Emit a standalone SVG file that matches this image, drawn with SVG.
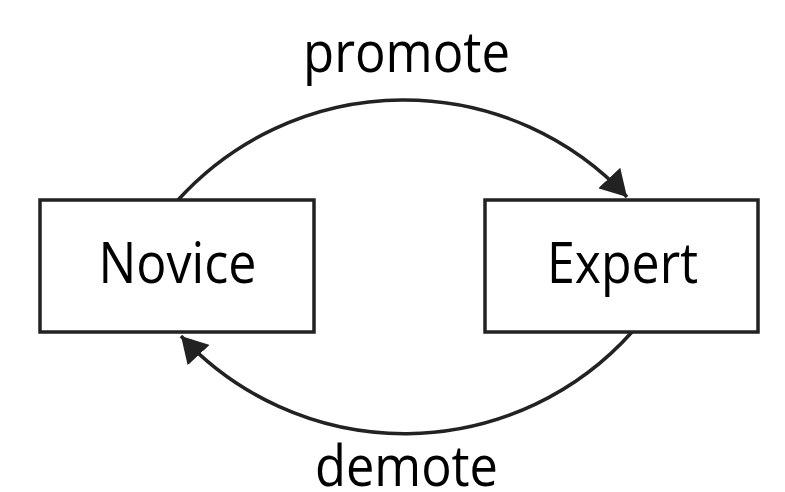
<svg xmlns="http://www.w3.org/2000/svg" width="785" height="492" viewBox="0 0 785 492">
<style>
.box{fill:#fff;stroke:#222;stroke-width:3.5}
.lbl{font-family:"Open Sans","Liberation Sans",sans-serif;font-size:56px;fill:#000;text-anchor:middle}
.edge{fill:none;stroke:#222;stroke-width:3.5}
</style>
<defs>
<marker id="ah" markerUnits="userSpaceOnUse" viewBox="0 0 26 30" refX="26" refY="15" markerWidth="26" markerHeight="30" orient="auto">
<path d="M0,0 L26,15 L0,30 Z" fill="#222"/>
</marker>
</defs>
<rect width="785" height="492" fill="#fff"/>
<g id="connectors">
<path class="edge" d="M178,200 A305,305 0 0 1 627,197" marker-end="url(#ah)"/>
<path class="edge" d="M632,332 A305,305 0 0 1 181,336" marker-end="url(#ah)"/>
<text class="lbl" x="406.5" y="72" textLength="207" lengthAdjust="spacingAndGlyphs">promote</text>
<text class="lbl" x="406.5" y="486" textLength="183" lengthAdjust="spacingAndGlyphs">demote</text>
</g>
<g id="novice">
<rect class="box" x="40" y="200" width="274" height="132"/>
<text class="lbl" x="177.5" y="283" textLength="158" lengthAdjust="spacingAndGlyphs">Novice</text>
</g>
<g id="expert">
<rect class="box" x="485" y="200" width="273" height="132"/>
<text class="lbl" x="622.5" y="283" textLength="151" lengthAdjust="spacingAndGlyphs">Expert</text>
</g>
</svg>
